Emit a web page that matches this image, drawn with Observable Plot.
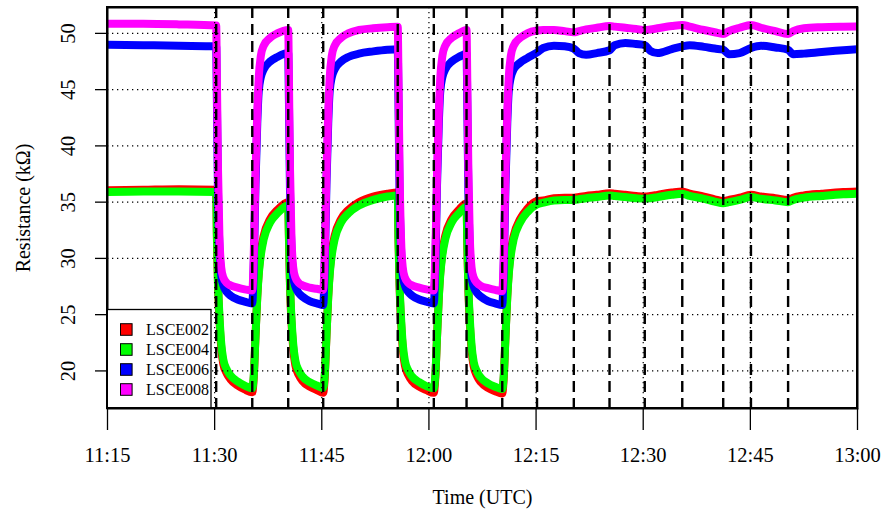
<!DOCTYPE html>
<html><head><meta charset="utf-8">
<script src="https://cdn.jsdelivr.net/npm/d3@7"></script>
<script src="https://cdn.jsdelivr.net/npm/@observablehq/plot@0.6"></script>
<style>
body{margin:0;background:#fff;}
#chart{position:relative;width:884px;height:517px;}
</style>
</head><body><div id="chart"></div>
<script>
const times = [
"11:15:00","11:20:00","11:25:00","11:30:13",
"11:30:19","11:30:28","11:30:40","11:30:55","11:31:13","11:31:43","11:32:13","11:33:13","11:34:13","11:35:16",
"11:35:28","11:35:43","11:35:58","11:36:10","11:36:28","11:36:52","11:37:46","11:38:46","11:40:18",
"11:40:24","11:40:33","11:40:45","11:41:00","11:41:18","11:41:48","11:42:18","11:43:18","11:44:18","11:45:12",
"11:45:24","11:45:39","11:45:54","11:46:06","11:46:24","11:46:48","11:47:42","11:48:42","11:50:12","11:52:12","11:54:12","11:55:38",
"11:55:44","11:55:53","11:56:05","11:56:20","11:56:38","11:57:08","11:57:38","11:58:38","11:59:38","12:00:41",
"12:00:53","12:01:08","12:01:23","12:01:35","12:01:53","12:02:17","12:03:11","12:04:11","12:05:16",
"12:05:22","12:05:31","12:05:43","12:05:58","12:06:16","12:06:46","12:07:16","12:08:16","12:09:16","12:10:16",
"12:10:28","12:10:43","12:10:58","12:11:10","12:11:28","12:11:52","12:12:46","12:13:46","12:15:08",
"12:16:00","12:17:30","12:19:00","12:20:17","12:21:00","12:22:00","12:23:30","12:25:17","12:26:00","12:27:30",
"12:29:00","12:30:13","12:31:00","12:32:00","12:34:00","12:35:28","12:36:30","12:38:30","12:40:00","12:41:12",
"12:42:00","12:43:30","12:45:05","12:46:30","12:48:30","12:50:17","12:51:00","12:52:30","12:55:00","12:58:00","13:00:00"
];
const LSCE002 = [
36.05,36.1,36.15,36.1,
31.8,27.7,24.6,22.1,20.6,19.75,19.25,18.7,18.35,18.1,
19.3,23,26.6,28.7,30.6,32.0,33.5,34.3,35.0,
31.7,27.5,24.4,22.0,20.5,19.6,19.1,18.6,18.3,18.05,
19.3,23,26.6,28.7,30.6,32.0,33.5,34.3,35.0,35.5,35.75,35.85,
31.8,27.6,24.5,22.0,20.5,19.6,19.1,18.6,18.3,18.05,
19.3,23,26.6,28.7,30.6,32.0,33.5,34.3,34.9,
31.3,27.3,24.3,21.9,20.4,19.5,19.0,18.5,18.2,18.0,
19.3,23,26.6,28.7,30.6,32.0,33.5,34.4,35.1,
35.15,35.35,35.4,35.4,35.45,35.55,35.65,35.8,35.75,35.65,
35.55,35.5,35.55,35.65,35.85,35.95,35.75,35.5,35.25,35.1,
35.2,35.4,35.65,35.5,35.35,35.2,35.4,35.6,35.75,35.9,35.95
];
const LSCE004 = [
35.9,35.95,35.95,35.9,
32,28,25,22.5,21,20.1,19.6,19.05,18.7,18.45,
19.5,23,26.5,28.5,30.3,31.7,33.2,34.0,34.7,
32,27.8,24.8,22.4,20.9,20.0,19.5,19.0,18.7,18.5,
19.5,23,26.5,28.5,30.3,31.7,33.2,34.0,34.7,35.2,35.5,35.6,
31.9,27.9,24.9,22.4,20.9,20.0,19.5,19.0,18.65,18.45,
19.5,23,26.5,28.5,30.3,31.7,33.2,34.0,34.6,
31.5,27.6,24.7,22.3,20.8,19.9,19.4,18.9,18.6,18.4,
19.5,23,26.5,28.5,30.3,31.7,33.2,34.1,34.8,
34.95,35.15,35.2,35.2,35.25,35.35,35.45,35.6,35.55,35.45,
35.35,35.3,35.35,35.45,35.65,35.75,35.55,35.3,35.05,34.9,
35.0,35.2,35.45,35.3,35.15,35.0,35.2,35.4,35.55,35.7,35.75
];
const LSCE006 = [
49.0,48.95,48.9,48.85,
44,36,31,28.5,27.6,27.0,26.7,26.35,26.15,26.0,
29,36.5,42,44.8,46.1,46.8,47.5,47.9,48.25,
44,36,31,28.4,27.5,26.9,26.6,26.2,26.0,25.85,
29,36.5,42,44.8,46.1,46.8,47.5,47.9,48.2,48.4,48.55,48.6,
44.2,36,31,28.5,27.6,27.0,26.7,26.35,26.15,26.0,
29,36.5,42,44.8,46.1,46.8,47.5,47.9,48.2,
44,36,31,28.4,27.5,26.9,26.6,26.2,26.0,25.85,
29,36.5,42,44.8,46.1,46.8,47.4,47.8,48.3,
48.7,48.9,48.85,48.65,48.25,48.1,48.25,48.5,48.95,49.15,
49.05,48.95,48.45,48.25,48.6,48.85,48.95,48.8,48.65,48.55,
48.15,48.25,48.7,48.9,48.75,48.55,48.15,48.2,48.35,48.5,48.6
];
const LSCE008 = [
50.85,50.85,50.8,50.7,
46,38,32,29.2,28.3,27.8,27.6,27.4,27.25,27.15,
30,37.5,43,46,48,48.9,49.6,50.0,50.3,
46,38,32,29.2,28.3,27.8,27.6,27.4,27.3,27.2,
30,37.5,43,46,48,48.9,49.6,50.0,50.3,50.45,50.55,50.6,
46.2,38,32,29.2,28.3,27.8,27.6,27.4,27.25,27.15,
30,37.5,43,46,48,48.9,49.6,50.0,50.3,
46,38,32,29.2,28.3,27.8,27.55,27.35,27.2,27.1,
30,37.5,43,46,48,48.9,49.6,50.0,50.25,
50.3,50.3,50.2,50.1,50.2,50.35,50.5,50.65,50.6,50.5,
50.4,50.3,50.35,50.45,50.65,50.75,50.6,50.3,50.1,49.95,
50.2,50.5,50.75,50.5,50.2,49.95,50.2,50.45,50.55,50.6,50.62
];

const events = ["11:30:13","11:35:16","11:40:18","11:45:12","11:55:38","12:00:41","12:05:16","12:10:16",
"12:15:08","12:20:17","12:25:17","12:30:13","12:35:28","12:41:12","12:45:05","12:50:17"];
const xTickLabels = ["11:15","11:30","11:45","12:00","12:15","12:30","12:45","13:00"];
const yTicks = [20,25,30,35,40,45,50];
const seriesNames = ["LSCE002","LSCE004","LSCE006","LSCE008"];
const seriesValues = [LSCE002, LSCE004, LSCE006, LSCE008];
const seriesColors = ["#ff0000","#00ff00","#0000ff","#ff00ff"];

const parseT = d3.utcParse("%H:%M:%S");
const parseHM = d3.utcParse("%H:%M");
const tDates = times.map(parseT);
const xTicks = xTickLabels.map(parseHM);
const eventDates = events.map(parseT);
const innerX = xTicks.slice(1, -1);

const lineMarks = seriesValues.map((vals, k) =>
  Plot.line(tDates.map((t, i) => ({t, v: vals[i]})), {
    x: "t", y: "v", stroke: seriesColors[k], strokeWidth: 8,
    curve: "monotone-x", strokeLinejoin: "round", strokeLinecap: "round", clip: true
  })
);

const font = "Liberation Serif, Times New Roman, serif";
const chart = Plot.plot({
  width: 884, height: 517,
  marginLeft: 107, marginRight: 27, marginTop: 7, marginBottom: 109,
  style: {fontFamily: font, background: "#fff", color: "#000"},
  x: {type: "utc", domain: [xTicks[0], xTicks[xTicks.length - 1]]},
  y: {domain: [16.66, 52.3]},
  marks: [
    ...lineMarks,
    Plot.ruleY(yTicks, {y: d => d, stroke: "#000", strokeWidth: 1.2, strokeDasharray: "1.3,3.7"}),
    Plot.ruleX(innerX, {x: d => d, stroke: "#000", strokeWidth: 1.2, strokeDasharray: "1.3,3.7"}),
    Plot.ruleX(eventDates, {x: d => d, stroke: "#000", strokeWidth: 2.4, strokeDasharray: "11,6"}),
    Plot.frame({stroke: "#000", strokeWidth: 2}),
    Plot.axisX({ticks: xTicks, tickFormat: d3.utcFormat("%H:%M"), tickSize: 22, tickPadding: 17, fontSize: 20.5, label: null, strokeWidth: 1.3}),
    Plot.axisY({ticks: yTicks, tickSize: 12, tickFormat: () => "", label: null, strokeWidth: 1.3}),
    Plot.text(yTicks, {y: d => d, text: d => String(d), frameAnchor: "left", dx: -39, rotate: -90, textAnchor: "middle", lineAnchor: "middle", fontSize: 20.5}),
    Plot.text(["Resistance (kΩ)"], {text: d => d, frameAnchor: "left", dx: -84, rotate: -90, textAnchor: "middle", lineAnchor: "middle", fontSize: 20}),
    Plot.text(["Time (UTC)"], {text: d => d, frameAnchor: "bottom", dy: 89, textAnchor: "middle", lineAnchor: "middle", fontSize: 20})
  ]
});
document.getElementById("chart").appendChild(chart);

// Legend inside the plot area (lower left)
const svg = d3.select(chart);
const lg = svg.append("g").attr("font-family", font).attr("text-anchor", "start");
lg.append("rect").attr("x", 107).attr("y", 309.5).attr("width", 104).attr("height", 98.5)
  .attr("fill", "#fff").attr("stroke", "#000").attr("stroke-width", 1.3);
seriesNames.forEach((name, k) => {
  const cy = 329.5 + k * 20;
  lg.append("rect").attr("x", 120.5).attr("y", cy - 5.8).attr("width", 11.6).attr("height", 11.6)
    .attr("fill", seriesColors[k]).attr("stroke", "#000").attr("stroke-width", 1);
  lg.append("text").attr("x", 146).attr("y", cy + 5.5).attr("font-size", 16).attr("fill", "#000")
    .attr("text-anchor", "start").text(name);
});
svg.append("rect").attr("x", 107).attr("y", 7).attr("width", 750).attr("height", 401)
  .attr("fill", "none").attr("stroke", "#000").attr("stroke-width", 2);
</script>
</body></html>
